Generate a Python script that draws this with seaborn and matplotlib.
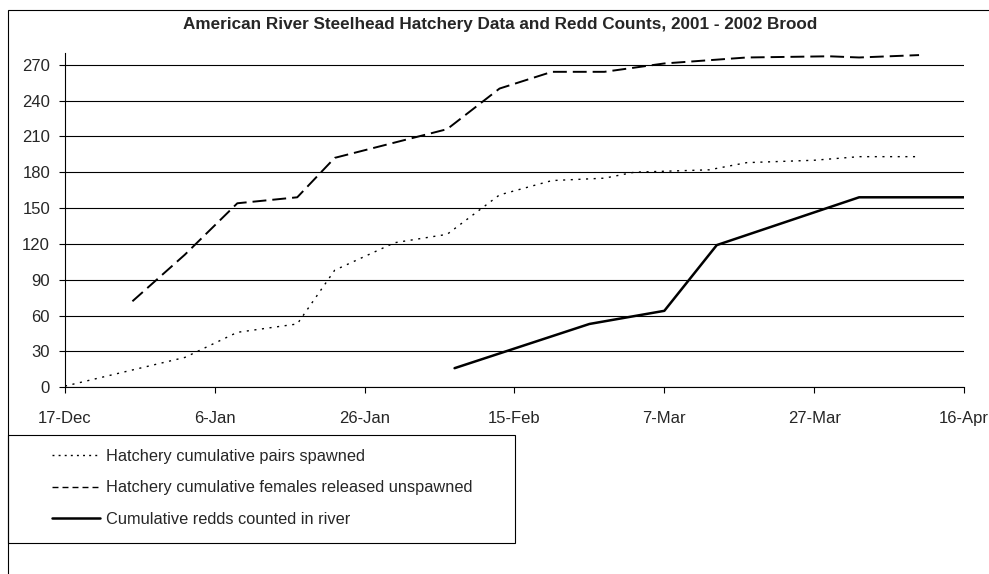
import matplotlib
matplotlib.use("Agg")
import matplotlib.pyplot as plt
from matplotlib.lines import Line2D
from matplotlib.patches import Rectangle
import pandas as pd
import seaborn as sns

# ---- data ----
chart_title = "American River Steelhead Hatchery Data and Redd Counts, 2001 - 2002 Brood"

pairs_dates = ["2001-12-17", "2002-01-02", "2002-01-09", "2002-01-17", "2002-01-22",
               "2002-01-30", "2002-02-06", "2002-02-13", "2002-02-20", "2002-02-27",
               "2002-03-03", "2002-03-13", "2002-03-18", "2002-03-27", "2002-04-02",
               "2002-04-10"]
pairs_values = [1, 25, 46, 53, 98, 121, 128, 161, 173, 175, 180, 182, 188, 190, 193, 193]

females_dates = ["2001-12-26", "2002-01-02", "2002-01-09", "2002-01-17", "2002-01-22",
                 "2002-02-06", "2002-02-13", "2002-02-20", "2002-02-27", "2002-03-07",
                 "2002-03-18", "2002-03-29", "2002-04-02", "2002-04-10"]
females_values = [72, 111, 154, 159, 192, 216, 250, 264, 264, 271, 276, 277, 276, 278]

redds_dates = ["2002-02-07", "2002-02-25", "2002-03-07", "2002-03-14", "2002-04-02", "2002-04-16"]
redds_values = [16, 53, 64, 119, 159, 159]

series_labels = ["Hatchery cumulative pairs spawned",
                 "Hatchery cumulative females released unspawned",
                 "Cumulative redds counted in river"]

x_tick_dates = ["2001-12-17", "2002-01-06", "2002-01-26", "2002-02-15",
                "2002-03-07", "2002-03-27", "2002-04-16"]
x_tick_labels = ["17-Dec", "6-Jan", "26-Jan", "15-Feb", "7-Mar", "27-Mar", "16-Apr"]
y_ticks = [0, 30, 60, 90, 120, 150, 180, 210, 240, 270]

# ---- style ----
sns.set_style("white")
plt.rcParams["font.family"] = ["Liberation Sans", "DejaVu Sans"]
plt.rcParams["lines.scale_dashes"] = False

W, H = 989, 574
fig = plt.figure(figsize=(W / 100, H / 100), dpi=100)
fig.patch.set_facecolor("white")

# outer chart border (runs off the right and bottom edges)
fig.add_artist(Rectangle((8 / W, -0.2), 1.2, 1.2 - 10 / H, transform=fig.transFigure,
                         fill=False, edgecolor="black", linewidth=0.8))

ax_left, ax_right, ax_top, ax_bottom = 65, 964, 53.3, 387.3
ax = fig.add_axes([ax_left / W, 1 - ax_bottom / H,
                   (ax_right - ax_left) / W, (ax_bottom - ax_top) / H])
ax.set_facecolor("white")

dotted = (0, (1.5, 4.0))
dashed = (0, (10.0, 4.3))
dotted_key = (0, (1.4, 3.0))
dashed_key = (0, (4.3, 2.9))

sns.lineplot(x=pd.to_datetime(pairs_dates), y=pairs_values, ax=ax,
             color="black", linewidth=1.0, linestyle=dotted)
sns.lineplot(x=pd.to_datetime(females_dates), y=females_values, ax=ax,
             color="black", linewidth=1.4, linestyle=dashed)
sns.lineplot(x=pd.to_datetime(redds_dates), y=redds_values, ax=ax,
             color="black", linewidth=1.8, linestyle="-")

ax.set_xlim(pd.Timestamp(x_tick_dates[0]), pd.Timestamp(x_tick_dates[-1]))
ax.set_ylim(0, 279.5)
ax.set_xticks(pd.to_datetime(x_tick_dates))
ax.set_xticklabels(x_tick_labels)
ax.set_yticks(y_ticks)
ax.set_yticklabels([str(v) for v in y_ticks])
ax.set_xlabel("")
ax.set_ylabel("")

ax.yaxis.grid(True, color="black", linewidth=0.8)
ax.xaxis.grid(False)
ax.set_axisbelow(True)
for side in ("top", "right"):
    ax.spines[side].set_visible(False)
for side in ("left", "bottom"):
    ax.spines[side].set_color("black")
    ax.spines[side].set_linewidth(0.8)

ax.tick_params(axis="y", direction="out", length=4.3, width=0.8, color="black",
               labelsize=12, pad=6.5, left=True)
ax.tick_params(axis="x", direction="out", length=4.0, width=0.8, color="black",
               labelsize=12, pad=13, bottom=True)

fig.text(500 / W, 1 - 25 / H, chart_title, ha="center", va="center",
         fontsize=12.3, fontweight="bold")

# legend box below the plot
fig.add_artist(Rectangle((8 / W, 1 - 543 / H), 507 / W, 108 / H, transform=fig.transFigure,
                         fill=False, edgecolor="black", linewidth=0.8))
handles = [Line2D([], [], color="black", linewidth=1.0, linestyle=dotted_key),
           Line2D([], [], color="black", linewidth=1.0, linestyle=dashed_key),
           Line2D([], [], color="black", linewidth=1.8, linestyle="-")]
fig.legend(handles, series_labels, loc="upper left",
           bbox_to_anchor=(52 / W, 1 - 449 / H), bbox_transform=fig.transFigure,
           frameon=False, borderpad=0, borderaxespad=0, handlelength=2.95,
           handletextpad=0.35, labelspacing=1.0, fontsize=11.8)

fig.savefig("out.png", dpi=100, facecolor="white")
